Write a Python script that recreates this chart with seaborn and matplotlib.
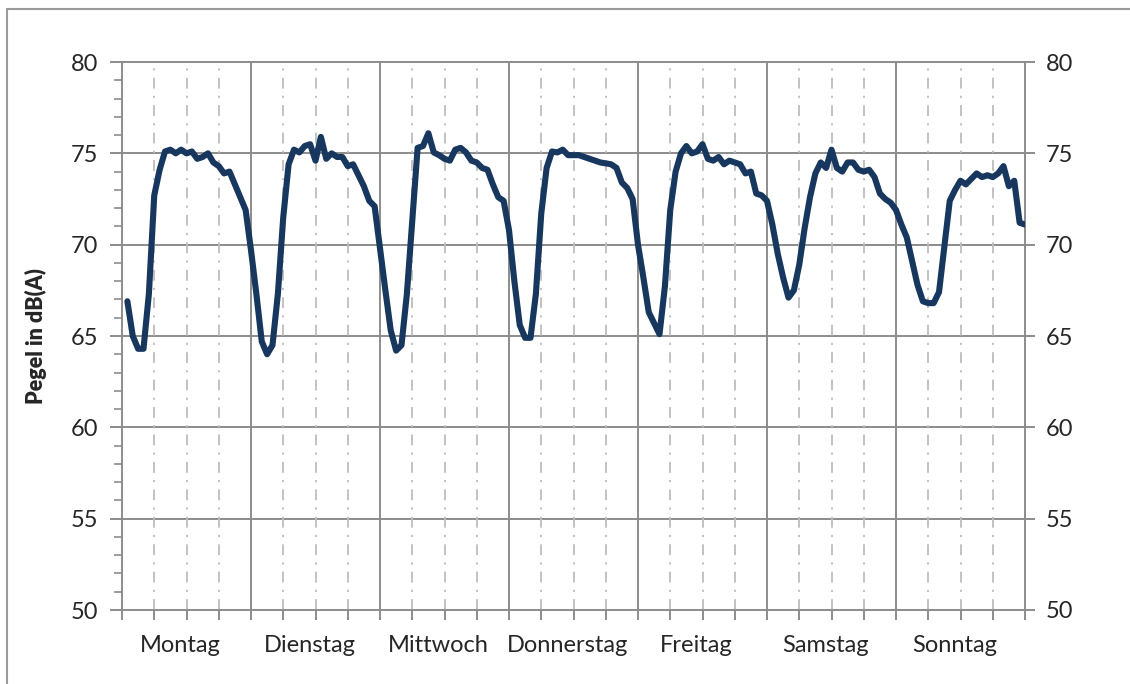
import numpy as np
import pandas as pd
import matplotlib
matplotlib.use("Agg")
import matplotlib.pyplot as plt
import matplotlib.transforms as mtransforms
import seaborn as sns
from matplotlib.lines import Line2D

# ---- data -------------------------------------------------------------
days = ["Montag", "Dienstag", "Mittwoch", "Donnerstag", "Freitag", "Samstag", "Sonntag"]

montag = [66.9, 65.0, 64.3, 64.3, 67.3, 72.7, 74.1, 75.1, 75.2, 75.0, 75.2, 75.0,
          75.1, 74.7, 74.8, 75.0, 74.5, 74.3, 73.9, 74.0, 73.3, 72.6, 71.9, 69.7]
dienstag = [67.3, 64.7, 64.0, 64.5, 67.3, 71.5, 74.4, 75.2, 75.05, 75.4, 75.5, 74.6,
            75.9, 74.7, 75.0, 74.8, 74.8, 74.3, 74.4, 73.8, 73.2, 72.4, 72.1, 69.8]
mittwoch = [67.5, 65.3, 64.2, 64.5, 67.3, 71.3, 75.3, 75.4, 76.1, 75.05, 74.9, 74.7,
            74.6, 75.2, 75.3, 75.05, 74.6, 74.5, 74.2, 74.1, 73.3, 72.6, 72.4, 70.8]
donnerstag = [68.0, 65.6, 64.9, 64.9, 67.3, 71.7, 74.2, 75.1, 75.05, 75.2, 74.9, 74.9,
              74.9, 74.8, 74.7, 74.6, 74.5, 74.45, 74.4, 74.2, 73.4, 73.1, 72.5, 70.0]
freitag = [68.2, 66.3, 65.7, 65.1, 67.7, 71.9, 74.0, 75.0, 75.4, 75.0, 75.1, 75.5,
           74.7, 74.6, 74.8, 74.4, 74.6, 74.5, 74.4, 73.9, 74.0, 72.8, 72.7, 72.4]
samstag = [71.1, 69.5, 68.2, 67.1, 67.5, 68.9, 70.9, 72.6, 73.9, 74.5, 74.2, 75.2,
           74.2, 74.0, 74.5, 74.5, 74.1, 74.0, 74.1, 73.7, 72.8, 72.5, 72.3, 71.9]
sonntag = [71.1, 70.4, 69.1, 67.8, 66.9, 66.8, 66.8, 67.4, 69.9, 72.4, 73.0, 73.5,
           73.3, 73.6, 73.9, 73.7, 73.8, 73.7, 73.9, 74.3, 73.2, 73.5, 71.2, 71.1]

pegel = montag + dienstag + mittwoch + donnerstag + freitag + samstag + sonntag
stunde = list(range(1, len(pegel) + 1))

y_ticks = [50, 55, 60, 65, 70, 75, 80]

df = pd.DataFrame({"Stunde": stunde, "Pegel": pegel})

# ---- style --------------------------------------------------------------
sns.set_style("white")
plt.rcParams["font.family"] = ["Lato", "DejaVu Sans"]

grid_col = "#8c8c8c"
dash_col = "#bdbdbd"
line_col = "#17375E"

fig = plt.figure(figsize=(11.30, 6.84), dpi=100)
ax = fig.add_axes([122 / 1130, 1 - 610 / 684, (1025 - 122) / 1130, (610 - 62) / 684])

n_hours = len(pegel)
ax.set_xlim(0, n_hours)
ax.set_ylim(50, 80)

# grid lines
for v in y_ticks[1:-1]:
    ax.axhline(v, color=grid_col, lw=1.4, zorder=1)
for h in range(6, n_hours, 6):
    if h % 24 == 0:
        ax.axvline(h, color=grid_col, lw=1.4, zorder=1)
    else:
        ax.axvline(h, color=dash_col, lw=1.3, ls=(0, (6, 4, 1.2, 4)), zorder=1)

sns.lineplot(data=df, x="Stunde", y="Pegel", ax=ax, color=line_col, lw=4.4,
             zorder=3)

for s in ax.spines.values():
    s.set_color(grid_col)
    s.set_linewidth(1.4)

# y axis
ax.set_yticks(y_ticks)
ax.set_yticks(range(50, 81), minor=True)
ax.tick_params(axis="y", which="major", length=9, width=1.4, color=grid_col,
               labelsize=17, pad=8, direction="out", left=True)
ax.tick_params(axis="y", which="minor", length=6, width=1.2, color=grid_col,
               direction="out", left=True)
ax.set_ylabel("Pegel in dB(A)", fontsize=15.5, fontweight="heavy", labelpad=17)

# right axis
ax2 = ax.twinx()
ax2.set_ylim(50, 80)
ax2.set_yticks(y_ticks)
ax2.tick_params(axis="y", which="major", length=7, width=1.4, color=grid_col,
                labelsize=17, pad=8, direction="out", right=True)
for s in ax2.spines.values():
    s.set_visible(False)

# x axis: ticks every 6 hours, day names at the day centres
x_ticks = list(range(0, n_hours + 1, 6))
x_labels = []
for t in x_ticks:
    if t % 24 == 12:
        x_labels.append(days[t // 24])
    else:
        x_labels.append("")
ax.set_xticks(x_ticks)
ax.set_xticklabels(x_labels)
ax.tick_params(axis="x", which="major", length=7, width=1.4, color=grid_col,
               direction="out", bottom=True, labelsize=17, pad=11)
ax.set_xlabel("")
shift = mtransforms.ScaledTranslation(-6 / 100, 0, fig.dpi_scale_trans)
for lab in ax.get_xticklabels():
    lab.set_transform(lab.get_transform() + shift)

# chart border (top and left edge visible)
fig.add_artist(Line2D([7 / 1130, 7 / 1130], [0, 1 - 9 / 684], color="#9a9a9a", lw=1.5))
fig.add_artist(Line2D([7 / 1130, 1], [1 - 9 / 684, 1 - 9 / 684], color="#9a9a9a", lw=1.5))

fig.savefig("out.png", dpi=100, facecolor="white")
